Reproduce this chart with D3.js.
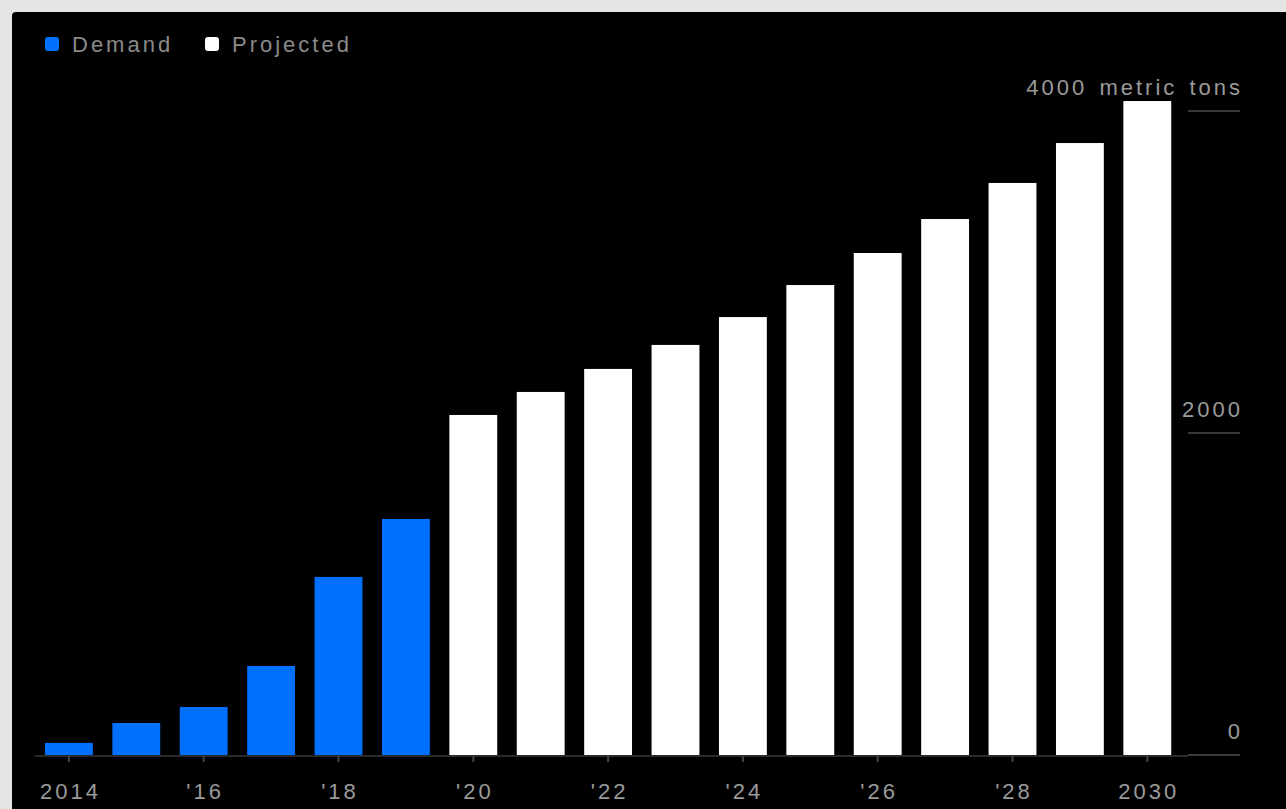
<!DOCTYPE html>
<html>
<head>
<meta charset="utf-8">
<script src="https://cdn.jsdelivr.net/npm/d3@7"></script>
<style>
  html, body { margin: 0; padding: 0; background: #e4e4e4; }
  svg { display: block; }
  text { font-family: "Liberation Sans", Arial, sans-serif; letter-spacing: 3px; }
</style>
</head>
<body>
<svg id="chart" width="1286" height="809"></svg>
<script>
const years = ["2014","2015","2016","2017","2018","2019","2020","2021","2022","2023","2024","2025","2026","2027","2028","2029","2030"];
const demand = [75, 199, 298, 553, 1106, 1466];
const projected = [2112, 2255, 2398, 2547, 2720, 2919, 3118, 3329, 3553, 3801, 4062];
const tickYears = ["2014","2016","2018","2020","2022","2024","2026","2028","2030"];
const tickLabels = ["2014","'16","'18","'20","'22","'24","'26","'28","2030"];
const yTicks = [0, 2000, 4000];
const yTickLabels = ["0", "2000", "4000 metric tons"];
const seriesNames = ["Demand", "Projected"];
const seriesColors = ["#0070ff", "#ffffff"];

const rows = years.map((y, i) => i < demand.length
  ? { year: y, value: demand[i], series: 0 }
  : { year: y, value: projected[i - demand.length], series: 1 });

const svg = d3.select("#chart");
svg.append("rect").attr("x", 12).attr("y", 12).attr("width", 1286).attr("height", 809)
  .attr("rx", 4).attr("fill", "#000");

const x = d3.scaleBand().domain(years).range([35.2, 1181]).paddingInner(0.29).paddingOuter(0.145);
const y = d3.scaleLinear().domain([0, 4000]).range([755, 111]);

// right-side y gridline ticks and labels
const yg = svg.append("g");
yg.selectAll("line").data(yTicks).join("line")
  .attr("x1", 1188).attr("x2", 1240)
  .attr("y1", d => y(d)).attr("y2", d => y(d))
  .attr("stroke", "#3a3a3a").attr("stroke-width", 2);
yg.selectAll("text").data(yTicks).join("text")
  .attr("x", 1243).attr("y", d => y(d) - 16)
  .attr("text-anchor", "end")
  .attr("fill", "#9a9a9a").attr("font-size", 22)
  .attr("word-spacing", "3px")
  .text((d, i) => yTickLabels[i]);

// baseline
svg.append("line").attr("x1", 35).attr("x2", 1188).attr("y1", y(0) + 1).attr("y2", y(0) + 1)
  .attr("stroke", "#2a2a2a").attr("stroke-width", 2);

// bars
svg.append("g").selectAll("rect").data(rows).join("rect")
  .attr("x", d => x(d.year)).attr("width", x.bandwidth())
  .attr("y", d => y(d.value)).attr("height", d => y(0) - y(d.value))
  .attr("fill", d => seriesColors[d.series]);

// x axis
const xAxis = d3.axisBottom(x).tickValues(tickYears)
  .tickFormat(d => tickLabels[tickYears.indexOf(d)])
  .tickSize(6).tickPadding(21);
const gx = svg.append("g").attr("transform", `translate(0,${y(0) + 1})`).call(xAxis);
gx.select(".domain").remove();
gx.selectAll(".tick line").attr("stroke", "#444").attr("stroke-width", 2);
gx.selectAll(".tick text").attr("fill", "#9a9a9a").attr("font-size", 22)
  .attr("font-family", "Liberation Sans, Arial, sans-serif")
  .attr("dx", "1.5px");

// legend
const lg = svg.append("g").attr("transform", "translate(45,44)");
const items = lg.selectAll("g").data(seriesNames).join("g")
  .attr("transform", (d, i) => `translate(${i * 160},0)`);
items.append("rect").attr("x", 0).attr("y", -7).attr("width", 14).attr("height", 14)
  .attr("rx", 3).attr("fill", (d, i) => seriesColors[i]);
items.append("text").attr("x", 27).attr("y", 0).attr("dy", "0.35em")
  .attr("fill", "#8a8a8a").attr("font-size", 22).text(d => d);
</script>
</body>
</html>
